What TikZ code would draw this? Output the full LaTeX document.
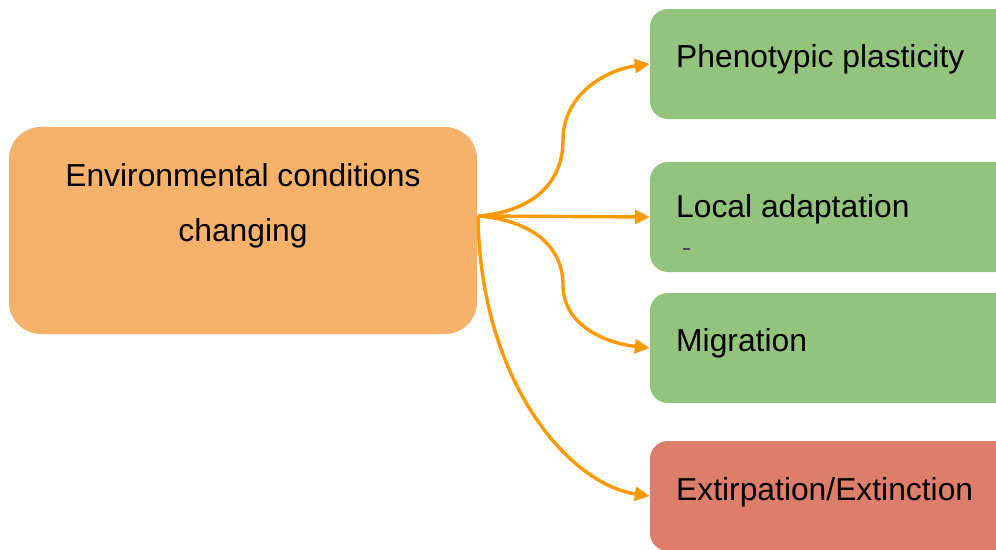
\documentclass[tikz,border=0pt]{standalone}
\usepackage{fontspec}
\setmainfont{Liberation Sans}
\usetikzlibrary{arrows.meta}
\definecolor{envc}{RGB}{246,178,107}
\definecolor{greenc}{RGB}{147,196,125}
\definecolor{redc}{RGB}{221,126,107}
\definecolor{arrc}{RGB}{255,153,0}
\begin{document}
\begin{tikzpicture}[x=1pt,y=-1pt,
  outbox/.style={fill=greenc, draw=none, rounded corners=18pt, minimum width=370pt, minimum height=110pt, inner sep=0pt},
  lbl/.style={anchor=base west, inner sep=0pt, font=\fontsize{31.8}{38}\selectfont},
  arr/.style={draw=arrc, line width=3.4pt, -{Triangle[length=15pt,width=14pt]}}]
\useasboundingbox (0,0) rectangle (996,549);
\clip (0,0) rectangle (996,549);
\fill[white] (0,0) rectangle (996,549);
% source box
\node[fill=envc, rounded corners=32pt, minimum width=468pt, minimum height=207pt, inner sep=0pt] (env) at (243,230.5) {};
\node[anchor=base, inner sep=0pt, font=\fontsize{31.8}{38}\selectfont] (envt1) at (243,186) {Environmental conditions};
\node[anchor=base, inner sep=0pt, font=\fontsize{31.8}{38}\selectfont] (envt2) at (243,241) {changing};
% target boxes
\node[outbox] (p) at (835,64) {};
\node[outbox] (l) at (835,217) {};
\node[outbox] (m) at (835,348) {};
\node[outbox, fill=redc] (e) at (835,496) {};
\node[lbl] (pt) at (676,67) {Phenotypic plasticity};
\node[lbl] (lt) at (676,217) {Local adaptation};
\node[lbl] (mt) at (676,351) {Migration};
\node[lbl] (et) at (676,500) {Extirpation/Extinction};
\draw[black!70, line width=1.3pt] (683,249) -- (690,249);
% connectors
\coordinate (src) at (478,216);
\draw[arr] (src) .. controls (530,212) and (563,185) .. (563,140) .. controls (563,95) and (605,70) .. (p.west);
\draw[arr] (src) -- (l.west);
\draw[arr] (src) .. controls (530,220) and (563,245) .. (563,285) .. controls (563,325) and (605,343) .. (m.west);
\draw[arr] (src) .. controls (480,380) and (568,484) .. (e.west);
\end{tikzpicture}
\end{document}
